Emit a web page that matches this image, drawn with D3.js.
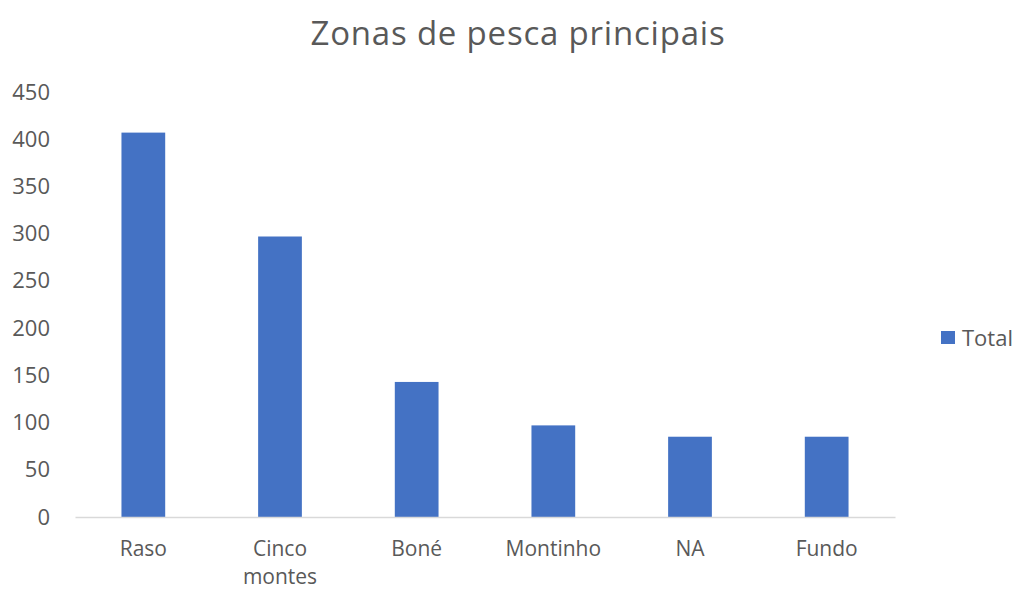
<!DOCTYPE html>
<html>
<head>
<meta charset="utf-8">
<script src="https://cdn.jsdelivr.net/npm/d3@7"></script>
<style>
	body { margin: 0; background: #fff; }
	svg text { font-family: "Segoe UI", "Open Sans", sans-serif; fill: #595959; }
</style>
</head>
<body>
<svg id="main-svg" width="1019" height="590"></svg>
<script>
const categories = ['Raso', 'Cinco montes', 'Boné', 'Montinho', 'NA', 'Fundo'];
const totals = [407, 297, 143, 97, 85, 85];
const yTicks = [0, 50, 100, 150, 200, 250, 300, 350, 400, 450];
const seriesName = 'Total';
const chartTitle = 'Zonas de pesca principais';

const svg = d3.select('#main-svg');
const plotLeft = 75, plotRight = 895, plotTop = 92, plotBottom = 517;

const x = d3.scaleBand()
	.domain(categories)
	.range([plotLeft, plotRight])
	.paddingInner(0.68)
	.paddingOuter(0.34);

const y = d3.scaleLinear()
	.domain([0, 450])
	.range([plotBottom, plotTop]);

svg.append('text')
	.attr('x', 518)
	.attr('y', 45)
	.attr('text-anchor', 'middle')
	.attr('font-size', 33)
	.attr('letter-spacing', 0.8)
	.text(chartTitle);

// y labels, no gridlines
const yAxis = svg.append('g')
	.attr('transform', `translate(${plotLeft}, 0)`)
	.call(d3.axisLeft(y).tickValues(yTicks).tickSize(0).tickPadding(25));
yAxis.select('.domain').remove();
yAxis.selectAll('text')
	.attr('font-size', 22)
	.attr('text-anchor', 'end')
	.attr('x', -25);

svg.append('g')
	.selectAll('rect')
	.data(totals)
	.enter().append('rect')
	.attr('x', (d, i) => x(categories[i]))
	.attr('y', d => y(d))
	.attr('width', x.bandwidth())
	.attr('height', d => y(0) - y(d))
	.attr('fill', '#4472c4');

// baseline
const xAxis = svg.append('g')
	.attr('transform', `translate(0, ${plotBottom})`)
	.call(d3.axisBottom(x).tickSize(0).tickFormat(''));
xAxis.select('.domain')
	.attr('stroke', '#d9d9d9')
	.attr('stroke-width', 1.5);

// category labels, one text per line so long names wrap
const lines = [];
categories.forEach(c => {
	c.split(' ').forEach((w, i) => lines.push({ cat: c, word: w, row: i }));
});

svg.append('g')
	.selectAll('text')
	.data(lines)
	.enter().append('text')
	.attr('x', d => x(d.cat) + x.bandwidth() / 2)
	.attr('y', d => 556 + d.row * 28)
	.attr('text-anchor', 'middle')
	.attr('font-size', 21)
	.text(d => d.word);

const legend = svg.append('g')
	.attr('transform', 'translate(941, 331)');
legend.append('rect')
	.attr('width', 14)
	.attr('height', 13)
	.attr('fill', '#4472c4');
legend.append('text')
	.attr('x', 21)
	.attr('y', 15)
	.attr('font-size', 22)
	.text(seriesName);
</script>
</body>
</html>
